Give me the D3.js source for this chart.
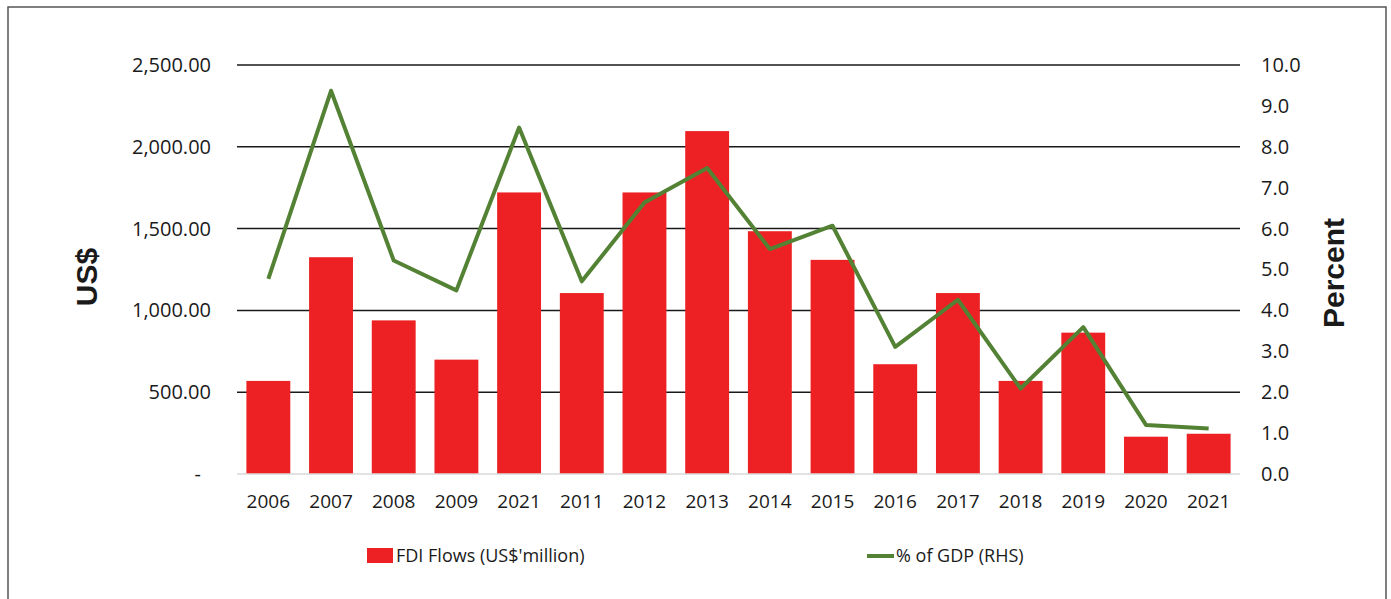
<!DOCTYPE html>
<html lang="en">
<head>
<script src="https://d3js.org/d3.v7.min.js"></script>
<style>
  body { margin: 0; background: #fff; }
  text { font-family: "Open Sans", sans-serif; fill: #1a1a1a; }
</style>
</head>
<body>
<script>
var years = ["2006", "2007", "2008", "2009", "2021", "2011", "2012", "2013",
             "2014", "2015", "2016", "2017", "2018", "2019", "2020", "2021"];
var fdiFlows = [569, 1325, 939, 699, 1721, 1106, 1721, 2096,
                1484, 1309, 671, 1106, 569, 864, 228, 246];
var gdpShare = [4.77, 9.37, 5.22, 4.49, 8.47, 4.71, 6.64, 7.48,
                5.50, 6.07, 3.11, 4.26, 2.09, 3.59, 1.20, 1.11];
var leftTicks = [0, 500, 1000, 1500, 2000, 2500];
var rightTicks = [0, 1, 2, 3, 4, 5, 6, 7, 8, 9, 10];

var width = 1391, height = 599;
var plotLeft = 237, plotRight = 1240, plotTop = 65, plotBottom = 474;

var svg = d3.select("body")
    .append("svg")
    .attr("width", width)
    .attr("height", height);

svg.append("rect")
    .attr("x", 8).attr("y", 7)
    .attr("width", 1378).attr("height", 620)
    .attr("fill", "none")
    .attr("stroke", "#555")
    .attr("stroke-width", 1.5);

// use index as key since "2021" appears twice
var x = d3.scaleBand()
    .domain(d3.range(years.length))
    .range([plotLeft, plotRight])
    .paddingInner(0.3)
    .paddingOuter(0.15);

var yLeft = d3.scaleLinear().domain([0, 2500]).range([plotBottom, plotTop]);
var yRight = d3.scaleLinear().domain([0, 10]).range([plotBottom, plotTop]);

// gridlines
svg.append("g")
    .selectAll("line")
    .data(leftTicks.filter(function (d) { return d > 0; }))
    .enter().append("line")
    .attr("x1", plotLeft).attr("x2", plotRight)
    .attr("y1", function (d) { return yLeft(d); })
    .attr("y2", function (d) { return yLeft(d); })
    .attr("stroke", "#1a1a1a")
    .attr("stroke-width", 1.5);

// left axis
var yAxisLeft = d3.axisLeft(yLeft)
    .tickValues(leftTicks)
    .tickSize(0)
    .tickPadding(26)
    .tickFormat(function (d) { return d === 0 ? "-" : d3.format(",.2f")(d); });

svg.append("g")
    .attr("transform", "translate(" + plotLeft + ",0)")
    .call(yAxisLeft)
    .call(function (g) { g.select(".domain").remove(); })
    .selectAll("text")
    .style("font-family", "Open Sans")
    .style("font-size", "20px")
    .attr("fill", "#1a1a1a")
    .attr("dx", function (d) { return d === 0 ? -10 : 0; });

// right axis
var yAxisRight = d3.axisRight(yRight)
    .tickValues(rightTicks)
    .tickSize(0)
    .tickPadding(21)
    .tickFormat(d3.format(".1f"));

svg.append("g")
    .attr("transform", "translate(" + plotRight + ",0)")
    .call(yAxisRight)
    .call(function (g) { g.select(".domain").remove(); })
    .selectAll("text")
    .style("font-family", "Open Sans")
    .style("font-size", "20px")
    .attr("fill", "#1a1a1a");

// bars
svg.append("g")
    .selectAll("rect")
    .data(fdiFlows)
    .enter().append("rect")
    .attr("x", function (d, i) { return x(i); })
    .attr("y", function (d) { return yLeft(d); })
    .attr("width", x.bandwidth())
    .attr("height", function (d) { return plotBottom - yLeft(d); })
    .attr("fill", "#ed2024");

// baseline
svg.append("line")
    .attr("x1", plotLeft).attr("x2", plotRight)
    .attr("y1", plotBottom).attr("y2", plotBottom)
    .attr("stroke", "#d9d9d9")
    .attr("stroke-width", 1.5);

// x axis
var xAxis = d3.axisBottom(x)
    .tickSize(0)
    .tickPadding(21)
    .tickFormat(function (i) { return years[i]; });

svg.append("g")
    .attr("transform", "translate(0," + plotBottom + ")")
    .call(xAxis)
    .call(function (g) { g.select(".domain").remove(); })
    .selectAll("text")
    .style("font-family", "Open Sans")
    .style("font-size", "19px")
    .attr("fill", "#1a1a1a");

// line
var line = d3.line()
    .x(function (d, i) { return x(i) + x.bandwidth() / 2; })
    .y(function (d) { return yRight(d); });

svg.append("path")
    .datum(gdpShare)
    .attr("d", line)
    .attr("fill", "none")
    .attr("stroke", "#548235")
    .attr("stroke-width", 4)
    .attr("stroke-linejoin", "round");

// axis titles
svg.append("text")
    .attr("transform", "translate(97,277) rotate(-90)")
    .attr("text-anchor", "middle")
    .style("font-family", "Liberation Sans, Arial, sans-serif")
    .style("font-weight", "bold")
    .style("font-size", "30px")
    .attr("fill", "#111")
    .text("US$");

svg.append("text")
    .attr("transform", "translate(1344,273) rotate(-90)")
    .attr("text-anchor", "middle")
    .style("font-family", "Liberation Sans, Arial, sans-serif")
    .style("font-weight", "bold")
    .style("font-size", "30px")
    .attr("fill", "#111")
    .text("Percent");

// legend
var legend = svg.append("g");
legend.append("rect")
    .attr("x", 367).attr("y", 548)
    .attr("width", 26).attr("height", 15)
    .attr("fill", "#ed2024");
legend.append("text")
    .attr("x", 396).attr("y", 556)
    .attr("dy", "0.35em")
    .style("font-size", "18px")
    .text("FDI Flows (US$'million)");
legend.append("line")
    .attr("x1", 867).attr("x2", 894)
    .attr("y1", 556).attr("y2", 556)
    .attr("stroke", "#548235")
    .attr("stroke-width", 4);
legend.append("text")
    .attr("x", 896).attr("y", 556)
    .attr("dy", "0.35em")
    .style("font-size", "18px")
    .text("% of GDP (RHS)");
</script>
</body>
</html>
